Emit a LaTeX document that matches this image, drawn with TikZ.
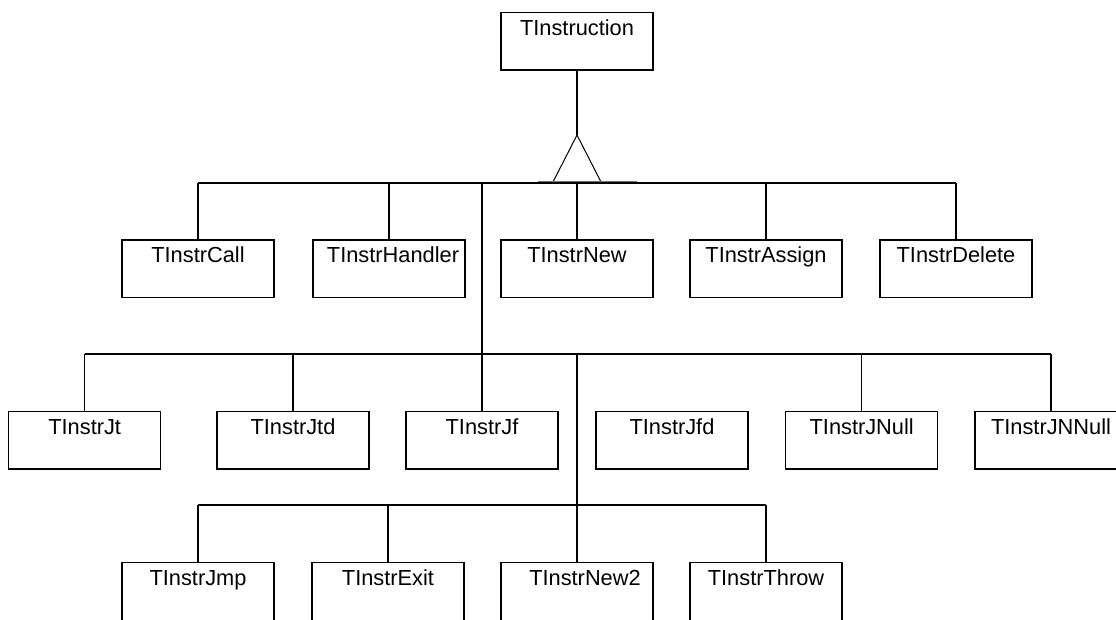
\documentclass[tikz,border=0pt]{standalone}
\usepackage{fontspec}
\setmainfont{Liberation Sans}
\begin{document}
\begin{tikzpicture}[x=1pt,y=-1pt,
  line width=1.3pt,
  cls/.style={draw, anchor=north, inner sep=0pt, minimum width=152pt,
    text height=23pt, text depth=34.5pt,
    font=\fontsize{21.8}{26}\selectfont},
  wire/.style={line width=1.3pt},
  basebar/.style={line width=2pt, draw=black!55}]
\clip (0,0) rectangle (1116,619);

% class boxes
\node[cls] (root)   at (577,11.7)   {TInstruction};

\node[cls] (call)   at (198,239.3)  {TInstrCall};
\node[cls] (hand)   at (389,239.3)  {\hspace*{8pt}TInstrHandler};
\node[cls] (new)    at (577,239.3)  {TInstrNew};
\node[cls] (assign) at (766,239.3)  {TInstrAssign};
\node[cls] (del)    at (956,239.3)  {TInstrDelete};

\node[cls] (jt)     at (84.7,410.7) {TInstrJt};
\node[cls] (jtd)    at (293,410.7)  {TInstrJtd};
\node[cls] (jf)     at (482,410.7)  {TInstrJf};
\node[cls] (jfd)    at (672,410.7)  {TInstrJfd};
\node[cls] (jnull)  at (861.7,410.7){TInstrJNull};
\node[cls] (jnnull) at (1051,410.7) {TInstrJNNull};

\node[cls] (jmp)    at (198,562)    {TInstrJmp};
\node[cls] (exit)   at (388,562)    {TInstrExit};
\node[cls] (newtwo) at (577,562)    {\hspace*{16pt}TInstrNew2};
\node[cls] (throw)  at (766,562)    {TInstrThrow};

% bus levels and the inheritance triangle
\coordinate (busA) at (0,183);
\coordinate (busB) at (0,354);
\coordinate (busC) at (0,505);
\coordinate (apex) at (577,135);
\coordinate (triL) at (553,182);
\coordinate (triR) at (601,182);

\draw[wire] (root.south) -- (apex);
\draw[line width=1pt] (triL) -- (apex) -- (triR);
\draw[basebar] (538,182) -- (637,182);

% first level
\draw[wire] (call.north |- busA) -- (del.north |- busA);
\foreach \n in {call,hand,new,assign,del}
  \draw[wire] (\n.north) -- (\n.north |- busA);
\draw[wire] (jf.north) -- (jf.north |- busA);

% second level
\draw[wire] (jt.north |- busB) -- (jnnull.north |- busB);
\foreach \n in {jt,jtd,jnull,jnnull}
  \draw[wire] (\n.north) -- (\n.north |- busB);

% third level
\draw[wire] (newtwo.north) -- (newtwo.north |- busB);
\draw[wire] (jmp.north |- busC) -- (throw.north |- busC);
\foreach \n in {jmp,exit,throw}
  \draw[wire] (\n.north) -- (\n.north |- busC);
\end{tikzpicture}
\end{document}
